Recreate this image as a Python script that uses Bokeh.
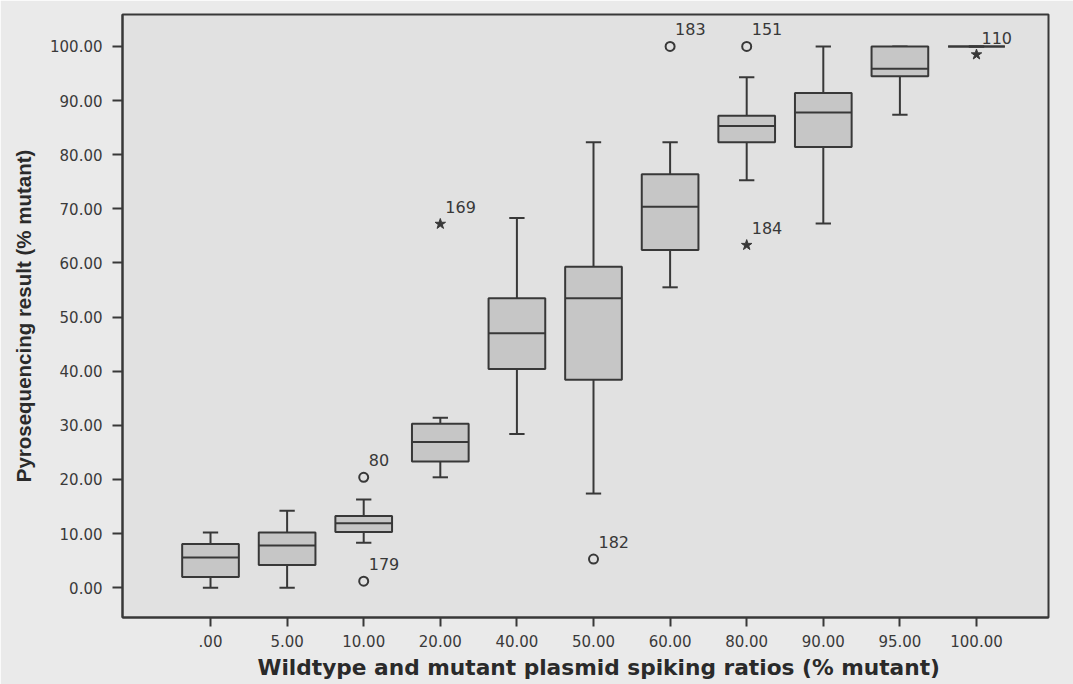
from bokeh.plotting import figure
from bokeh.models import ColumnDataSource, FixedTicker, Range1d, Title
from bokeh.embed import file_html
from bokeh.resources import INLINE
from bokeh.core.properties import value

# ---- data ----
categories = [".00", "5.00", "10.00", "20.00", "40.00", "50.00",
              "60.00", "80.00", "90.00", "95.00", "100.00"]
q1 = [2.0, 4.2, 10.3, 23.3, 40.4, 38.4, 62.4, 82.3, 81.4, 94.5, 100.0]
median = [5.6, 7.8, 11.9, 26.9, 47.0, 53.5, 70.4, 85.3, 87.8, 95.9, 100.0]
q3 = [8.1, 10.2, 13.25, 30.3, 53.5, 59.3, 76.4, 87.2, 91.4, 100.0, 100.0]
whisker_low = [0.0, 0.0, 8.3, 20.4, 28.4, 17.4, 55.5, 75.3, 67.3, 87.4, 100.0]
whisker_high = [10.2, 14.2, 16.3, 31.4, 68.3, 82.3, 82.3, 94.3, 100.0, 100.0, 100.0]

outlier_cat = ["10.00", "10.00", "50.00", "60.00", "80.00"]
outlier_val = [20.4, 1.2, 5.3, 100.0, 100.0]
outlier_id = ["80", "179", "182", "183", "151"]

extreme_cat = ["20.00", "80.00", "100.00"]
extreme_val = [67.2, 63.3, 98.5]
extreme_id = ["169", "184", "110"]

y_ticks = [0, 10, 20, 30, 40, 50, 60, 70, 80, 90, 100]
y_tick_labels = ["0.00", "10.00", "20.00", "30.00", "40.00", "50.00",
                 "60.00", "70.00", "80.00", "90.00", "100.00"]

x_title = "Wildtype and mutant plasmid spiking ratios (% mutant)"
y_title = "Pyrosequencing result (% mutant)"

# ---- styling ----
BOX_W = 0.74
CAP_W = 0.2
INK = "#383838"
BOX_FILL = "#c6c6c6"
PLOT_BG = "#e1e1e1"
PAGE_BG = "#eaeaea"

xs = list(range(len(categories)))
box_src = ColumnDataSource(dict(
    x=xs, q1=q1, q3=q3, med=median, lo=whisker_low, hi=whisker_high,
    bl=[v - BOX_W / 2 for v in xs], br=[v + BOX_W / 2 for v in xs],
    cl=[v - CAP_W / 2 for v in xs], cr=[v + CAP_W / 2 for v in xs],
))

out_src = ColumnDataSource(dict(
    x=[categories.index(c) for c in outlier_cat], y=outlier_val, t=outlier_id))
ext_src = ColumnDataSource(dict(
    x=[categories.index(c) for c in extreme_cat], y=extreme_val, t=extreme_id))

p = figure(width=1073, height=684, output_backend="svg", toolbar_location=None,
           x_range=Range1d(-1.149, 10.94), y_range=Range1d(-5.5, 105.9),
           min_border_left=122, min_border_right=25, min_border_top=14,
           min_border_bottom=67)

p.background_fill_color = PLOT_BG
p.border_fill_color = PAGE_BG
p.outline_line_color = INK
p.outline_line_width = 2
p.grid.visible = False

# whiskers
p.segment(x0="x", y0="q3", x1="x", y1="hi", source=box_src, line_color=INK, line_width=2)
p.segment(x0="x", y0="q1", x1="x", y1="lo", source=box_src, line_color=INK, line_width=2)
p.segment(x0="cl", y0="hi", x1="cr", y1="hi", source=box_src, line_color=INK, line_width=2)
p.segment(x0="cl", y0="lo", x1="cr", y1="lo", source=box_src, line_color=INK, line_width=2)
# boxes
p.vbar(x="x", width=BOX_W, bottom="q1", top="q3", source=box_src,
       fill_color=BOX_FILL, line_color=INK, line_width=2)
# medians
p.segment(x0="bl", y0="med", x1="br", y1="med", source=box_src, line_color=INK, line_width=2)

# outliers
p.scatter(x="x", y="y", source=out_src, marker="circle", size=9,
          fill_color=None, line_color=INK, line_width=2)
p.scatter(x="x", y="y", source=ext_src, marker="star", size=11,
          fill_color=INK, line_color=INK, line_width=1)
for src in (out_src, ext_src):
    p.text(x="x", y="y", text="t", source=src, x_offset=5, y_offset=-17,
           text_align="left", text_baseline="middle",
           text_font=value("DejaVu Sans"), text_font_size="16px", text_color=INK)

# axes
p.xaxis.ticker = FixedTicker(ticks=xs)
p.xaxis.major_label_overrides = {i: c for i, c in enumerate(categories)}
p.yaxis.ticker = FixedTicker(ticks=y_ticks)
p.yaxis.major_label_overrides = {v: l for v, l in zip(y_ticks, y_tick_labels)}

for ax in (p.xaxis[0], p.yaxis[0]):
    ax.axis_line_color = INK
    ax.axis_line_width = 2
    ax.major_tick_line_color = INK
    ax.major_tick_line_width = 2
    ax.major_tick_in = 0
    ax.minor_tick_line_color = None
    ax.major_label_text_font = "DejaVu Sans"
    ax.major_label_text_font_size = "15px"
    ax.major_label_text_color = "#3a3a3a"
    ax.axis_label_text_font_style = "bold"
    ax.axis_label_text_color = "#2a2a2a"

p.xaxis.major_tick_out = 9
p.xaxis.major_label_standoff = 8

# x-axis title, placed under the tick labels (slightly right of the frame centre, as in the reference)
p.add_layout(Title(text=x_title, align="left", offset=135,
                   text_font="DejaVu Sans", text_font_size="21.7px",
                   text_font_style="bold", text_color="#2a2a2a",
                   standoff=7), "below")

p.yaxis.axis_label = y_title
p.yaxis.axis_label_text_font = "Liberation Sans"
p.yaxis.axis_label_text_font_size = "20.5px"
p.yaxis.major_tick_out = 10
p.yaxis.major_label_standoff = 10
p.yaxis.axis_label_standoff = 12

open("out.html", "w").write(file_html(p, INLINE))
